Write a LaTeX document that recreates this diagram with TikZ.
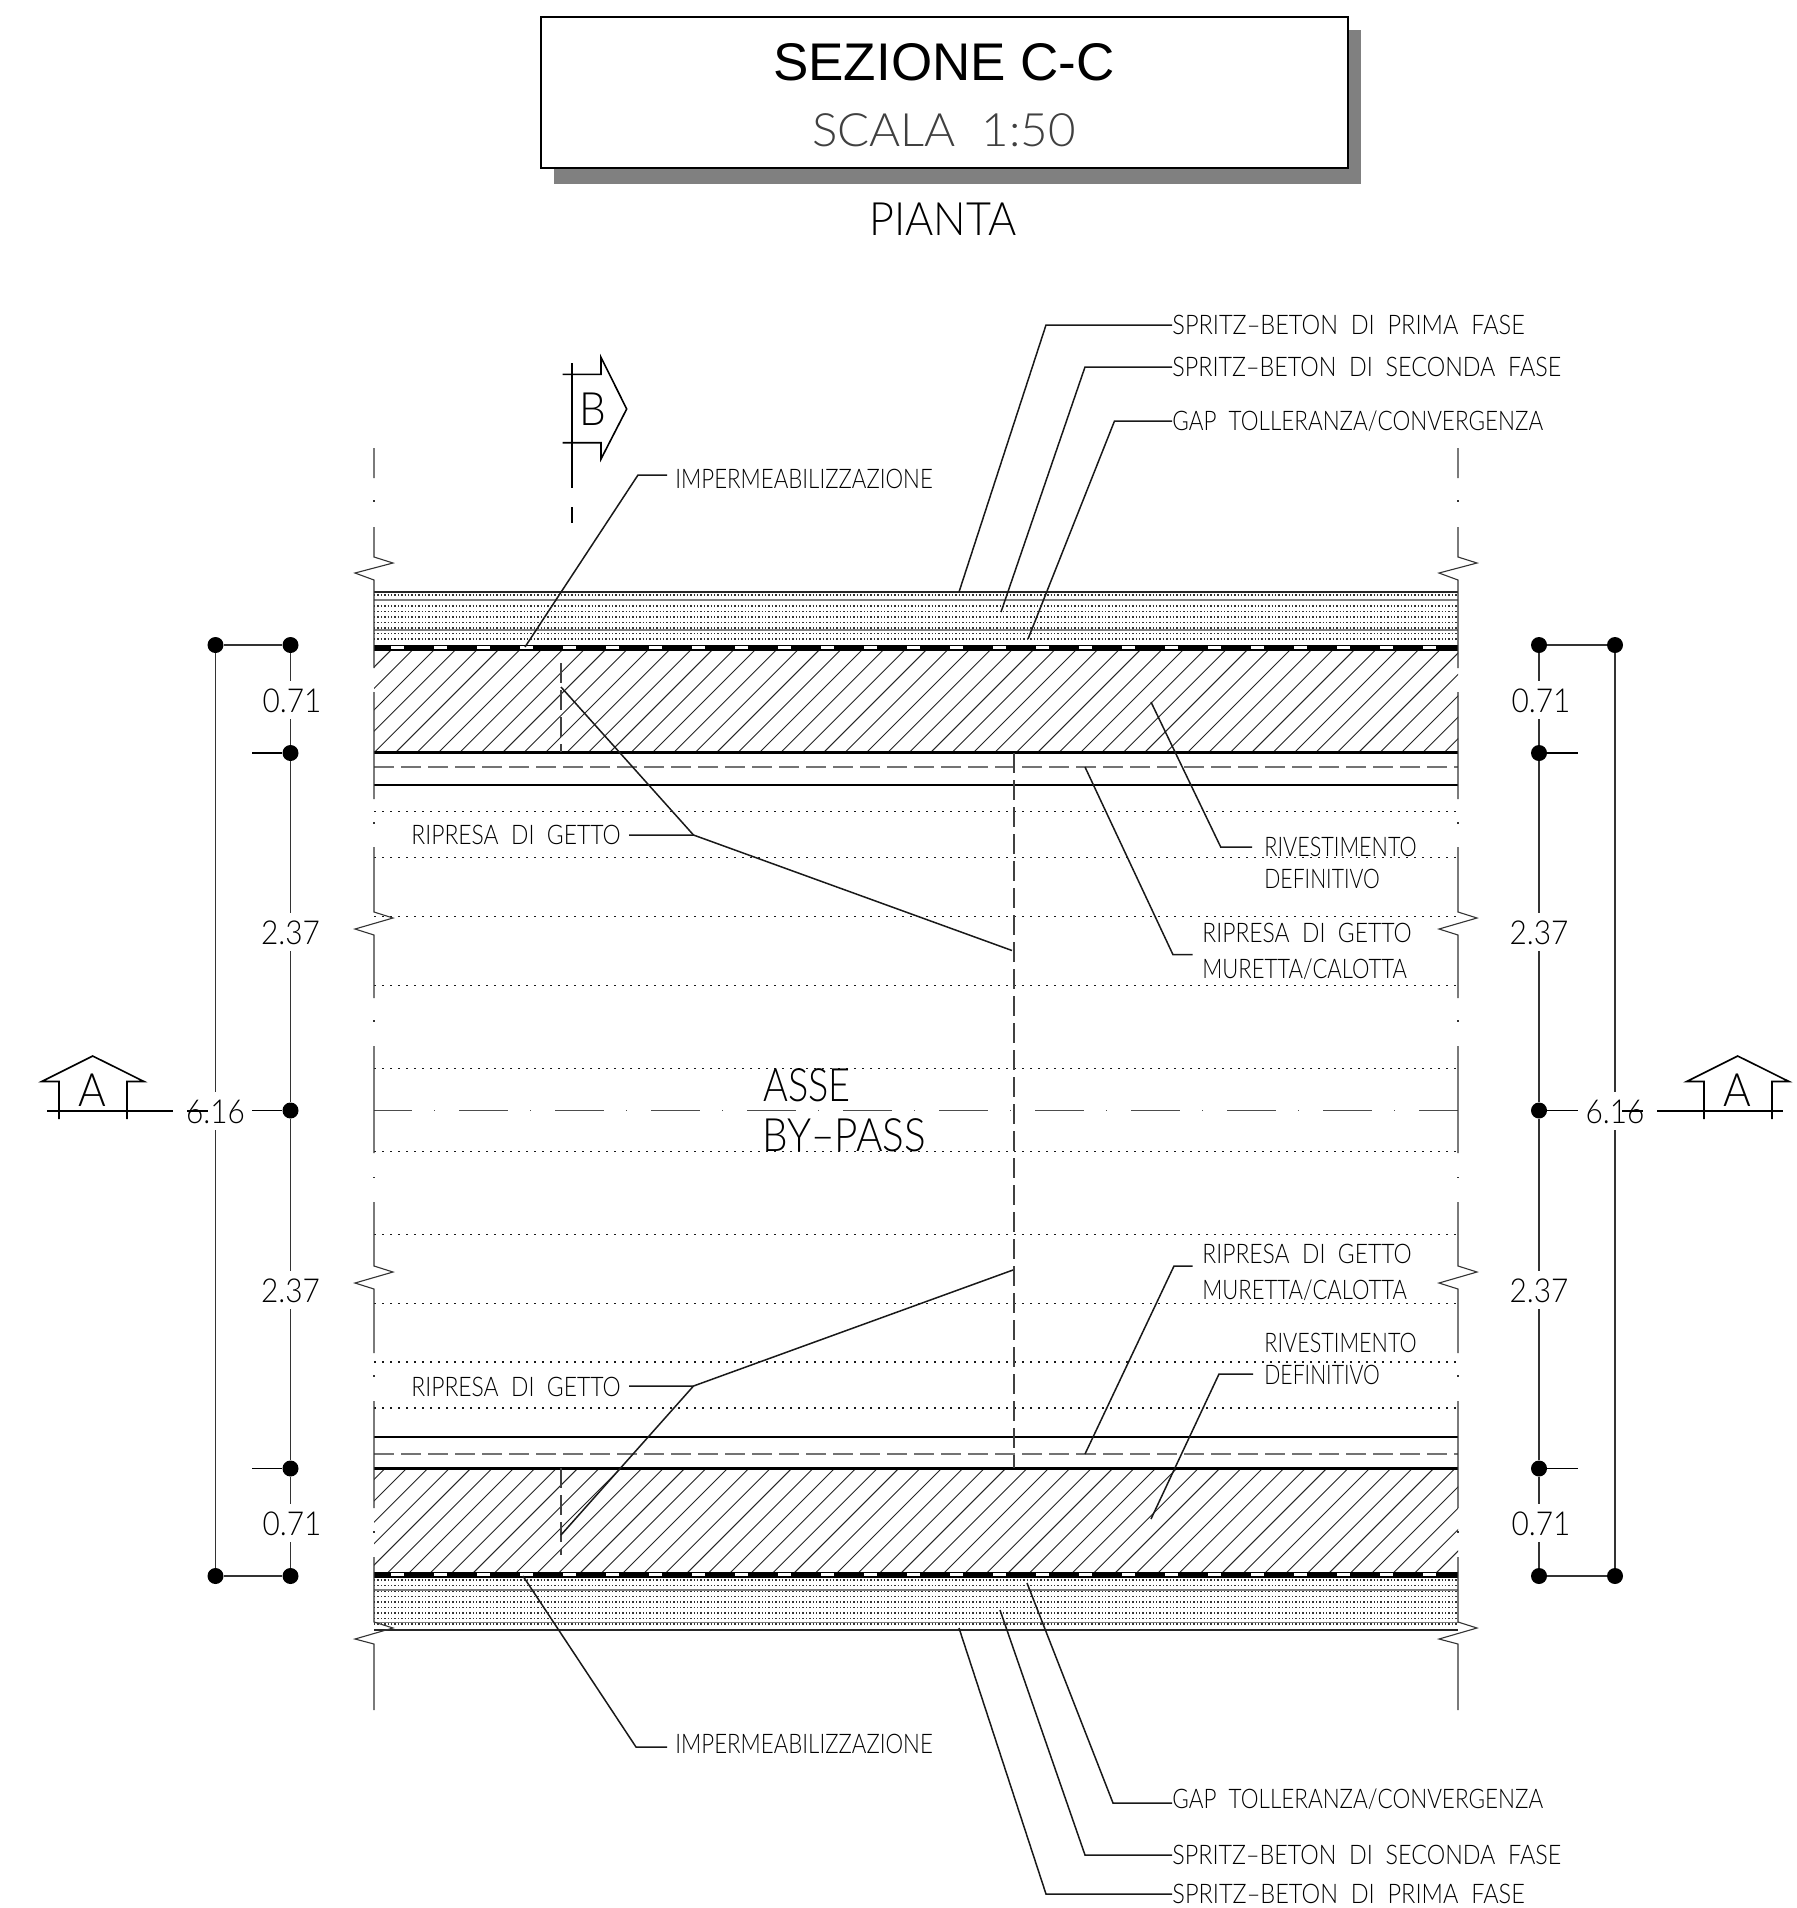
\documentclass[tikz,border=0pt]{standalone}
\usepackage{fontspec}
\setmainfont{Lato Light}[FakeStretch=0.8]
\newfontfamily\arialf{Liberation Sans}
\newcommand{\sx}[2]{\scalebox{#1}[1]{#2}}
\begin{document}
\begin{tikzpicture}[x=.5pt,y=-.5pt,
  cad/.style={line width=.55pt,black!80},
  heavy/.style={line width=1.3pt,black},
  med/.style={line width=.8pt,black},
  fine/.style={line width=.6pt,black},
  leader/.style={line width=.75pt,black!90},
  dotrow/.style={line width=.7pt,black!90,dash pattern=on .8pt off 3.2pt},
  stip/.style={line width=.55pt,black!80,dash pattern=on .7pt off 1pt},
  dashrow/.style={line width=.55pt,black!55,dash pattern=on 10pt off 3.5pt},
  vdash/.style={line width=.55pt,black!75,dash pattern=on 10pt off 3.5pt},
  axisline/.style={line width=.6pt,black!70,dash pattern=on 24.5pt off 11pt on .6pt off 11.9pt,dash phase=5.5pt},
  secline/.style={line width=1.2pt,black},
  dimdot/.style={circle,fill=black,inner sep=0pt,minimum size=8pt},
  lbl/.style={font=\fontsize{13.5}{14}\selectfont,inner sep=0pt,anchor=west,text height=9.7pt,text depth=0pt},
  dimlbl/.style={font=\fontsize{16.5}{17}\selectfont,inner sep=0pt,text height=12pt,text depth=0pt,minimum height=19pt,minimum width=10pt},
  biglbl/.style={font=\fontsize{23}{24}\selectfont,inner sep=0pt,text height=16pt,text depth=0pt},
]
\path[use as bounding box,fill=white] (0,0) rectangle (1797,1908);

% title
\fill[black!50] (554,30) rectangle (1361,184);
\node[draw=black,line width=.9pt,fill=white,minimum width=403.5pt,minimum height=75.5pt,inner sep=0pt] (titlebox) at (944.5,92.5) {};
\node[inner sep=0pt,font=\arialf\fontsize{26.5}{28}\selectfont] (t1) at (944,62) {SEZIONE C-C};
\node[biglbl,text=black!75] (t2) at (944,130) {\sx{1.29}{SCALA\ \ 1:50}};
\node[biglbl] (t3) at (943,219) {\sx{1.17}{PIANTA}};

% spritz layers
\foreach \y in {595,600.5,...,644}{\draw[stip] (374,\y) -- (1458,\y);}
\foreach \y in {1580,1585.5,...,1629}{\draw[stip] (374,\y) -- (1458,\y);}
\draw[line width=.8pt,black!50] (374,600) -- (1458,600) (374,630) -- (1458,630)
  (374,1590) -- (1458,1590) (374,1622.5) -- (1458,1622.5);
\draw[line width=.8pt,black!85] (374,592) -- (1458,592);
\draw[line width=.8pt,black!85] (374,1630) -- (1458,1630);

% hatching
\begin{scope}
\clip (374,650) rectangle (1458,752.7);
\foreach \n in {-5,...,52}{
  \pgfmathsetmacro\c{1126.7+21.4*\n}
  \draw[line width=.45pt,black!85] (\c-650,650) -- (\c-753,753);}
\end{scope}
\begin{scope}
\clip (374,1468.5) rectangle (1458,1572);
\foreach \n in {-1,...,57}{
  \pgfmathsetmacro\c{1853.5+21.4*\n}
  \draw[line width=.45pt,black!85] (\c-1468,1468) -- (\c-1573,1573);}
\end{scope}

% waterproofing bands
\draw[fine] (374,645.3) -- (1458,645.3) (374,650) -- (1458,650);
\draw[line width=1.5pt,black,dash pattern=on 15pt off 6.5pt,dash phase=6.5pt] (374,647.5) -- (1458,647.5);
\draw[fine] (374,1572.3) -- (1458,1572.3) (374,1577) -- (1458,1577);
\draw[line width=1.5pt,black,dash pattern=on 15pt off 6.5pt,dash phase=6.5pt] (374,1574.5) -- (1458,1574.5);

% horizontal lines
\draw[heavy] (374,752.7) -- (1458,752.7);
\draw[heavy] (374,1468.5) -- (1458,1468.5);
\draw[dashrow] (374,767) -- (1458,767);
\draw[dashrow] (374,1454) -- (1458,1454);
\draw[fine] (374,785) -- (1458,785);
\draw[fine] (374,1437) -- (1458,1437);
\foreach \y in {811.7,857.7,916.7,985.7,1068.3,1151.7,1234.5,1303.5,1362,1408}{
  \draw[dotrow] (374,\y) -- (1458,\y);}
\draw[axisline] (374,1110.5) -- (1458,1110.5);

% vertical breaks
\foreach \x/\s in {374/1,1458/1}{
 \draw[cad,line join=miter]
  (\x,448) -- (\x,478) (\x,527) -- (\x,557) -- (\x+19,563) -- (\x-19,573) -- (\x,580) -- (\x,668)
  (\x,692) -- (\x,799) (\x,847) -- (\x,912) -- (\x+19,918) -- (\x-19,929) -- (\x,935) -- (\x,998)
  (\x,1046) -- (\x,1153) (\x,1202) -- (\x,1266) -- (\x+19,1272) -- (\x-19,1283) -- (\x,1289) -- (\x,1353)
  (\x,1401) -- (\x,1508) (\x,1557) -- (\x,1622) -- (\x+19,1628) -- (\x-19,1639) -- (\x,1644) -- (\x,1710);
 \foreach \y in {501,823,1021,1177.5,1376,1532}{\fill[black!80] (\x-.7,\y-.7) rectangle (\x+.7,\y+.7);}
}
\draw[vdash] (1014,753) -- (1014,1468);
\draw[vdash] (561,663) -- (561,752);
\draw[vdash] (561,1468) -- (561,1555);

% section B
\draw[secline] (572,363) -- (572,488) (572,507) -- (572,523);
\draw[med] (562.7,374.3) -- (601,374.3) -- (601,357.3) -- (626.7,409) -- (601,459) -- (601,442.7) -- (562.7,442.7);
\node[biglbl] (secB) at (592.7,409) {\sx{1.15}{B}};

% section A left and right
\draw[secline] (47,1110.7) -- (173,1110.7) (187,1110.7) -- (208,1110.7);
\draw[med] (59,1119) -- (59,1081.5) -- (41.7,1081.5) -- (92.7,1056) -- (144,1081.5) -- (127,1081.5) -- (127,1119);
\node[biglbl] (secAl) at (92.7,1090) {\sx{1.15}{A}};
\draw[secline] (1657,1110.7) -- (1783,1110.7) (1622,1110.7) -- (1643,1110.7);
\draw[med] (1704,1119) -- (1704,1081.5) -- (1686.7,1081.5) -- (1737.7,1056) -- (1789,1081.5) -- (1772,1081.5) -- (1772,1119);
\node[biglbl] (secAr) at (1737.7,1090) {\sx{1.15}{A}};

% dimensions left
\node[dimdot] (la) at (215.5,645) {};
\node[dimdot] (lb) at (290.5,645) {};
\node[dimdot] (lc) at (290.5,753) {};
\node[dimdot] (ld) at (290.5,1110.5) {};
\node[dimdot] (le) at (290.5,1468.5) {};
\node[dimdot] (lf) at (290.5,1576) {};
\node[dimdot] (lg) at (215.5,1576) {};
\coordinate (ltc) at (252,753);
\coordinate (lte) at (252,1468.5);
\coordinate (ltd) at (252,1110.5);
\node[dimlbl] (l071a) at (292,700) {\sx{1.13}{0.71}};
\node[dimlbl] (l237a) at (290.5,932) {\sx{1.13}{2.37}};
\node[dimlbl] (l237b) at (290.5,1290) {\sx{1.13}{2.37}};
\node[dimlbl] (l071b) at (292,1523) {\sx{1.13}{0.71}};
\node[dimlbl] (l616) at (215.5,1111) {\sx{1.13}{6.16}};
\draw[cad] (la) -- (lb) (lf) -- (lg);
\draw[cad] (lb) -- (lb |- l071a.north) (lc |- l071a.south) -- (lc) -- (lc |- l237a.north)
  (ld |- l237a.south) -- (ld) -- (ld |- l237b.north) (le |- l237b.south) -- (le) -- (le |- l071b.north)
  (lf |- l071b.south) -- (lf);
\draw[cad] (la) -- (la |- l616.north) (lg |- l616.south) -- (lg);
\draw[med] (lc) -- (ltc) (le) -- (lte) (ld) -- (ltd);

% dimensions right
\node[dimdot] (ra) at (1615,645) {};
\node[dimdot] (rb) at (1539,645) {};
\node[dimdot] (rc) at (1539,753) {};
\node[dimdot] (rd) at (1539,1110.5) {};
\node[dimdot] (re) at (1539,1468.5) {};
\node[dimdot] (rf) at (1539,1576) {};
\node[dimdot] (rg) at (1615,1576) {};
\coordinate (rtc) at (1578,753);
\coordinate (rte) at (1578,1468.5);
\coordinate (rtd) at (1578,1110.5);
\node[dimlbl] (r071a) at (1541,700) {\sx{1.13}{0.71}};
\node[dimlbl] (r237a) at (1539,932) {\sx{1.13}{2.37}};
\node[dimlbl] (r237b) at (1539,1290) {\sx{1.13}{2.37}};
\node[dimlbl] (r071b) at (1541,1523) {\sx{1.13}{0.71}};
\node[dimlbl] (r616) at (1615,1111) {\sx{1.13}{6.16}};
\draw[cad] (ra) -- (rb) (rf) -- (rg);
\draw[cad] (rb) -- (rb |- r071a.north) (rc |- r071a.south) -- (rc) -- (rc |- r237a.north)
  (rd |- r237a.south) -- (rd) -- (rd |- r237b.north) (re |- r237b.south) -- (re) -- (re |- r071b.north)
  (rf |- r071b.south) -- (rf);
\draw[cad] (ra) -- (ra |- r616.north) (rg |- r616.south) -- (rg);
\draw[med] (rc) -- (rtc) (re) -- (rte) (rd) -- (rtd);

% axis label
\node[biglbl,anchor=west] (asse) at (763,1085) {\sx{1.03}{ASSE}};
\node[biglbl,anchor=west] (bypass) at (762,1135) {\sx{1.1}{BY–PASS}};

% labels
\node[lbl] (s1) at (1172,325) {\sx{1.09}{SPRITZ–BETON\ \ DI\ \ PRIMA\ \ FASE}};
\node[lbl] (s2) at (1172,367) {\sx{1.08}{SPRITZ–BETON\ \ DI\ \ SECONDA\ \ FASE}};
\node[lbl] (s3) at (1172,421) {\sx{1.04}{GAP\ \ TOLLERANZA/CONVERGENZA}};
\node[lbl] (i1) at (675,479) {\sx{1.03}{IMPERMEABILIZZAZIONE}};
\node[lbl] (g1) at (411,835) {\sx{1.06}{RIPRESA\ \ DI\ \ GETTO}};
\node[lbl] (r1) at (1264,847) {RIVESTIMENTO};
\node[lbl] (r1b) at (1264,879) {\sx{.98}{DEFINITIVO}};
\node[lbl] (m1) at (1202,933) {\sx{1.06}{RIPRESA\ \ DI\ \ GETTO}};
\node[lbl] (m1b) at (1202,969) {\sx{1.02}{MURETTA/CALOTTA}};
\node[lbl] (m2) at (1202,1254) {\sx{1.06}{RIPRESA\ \ DI\ \ GETTO}};
\node[lbl] (m2b) at (1202,1290) {\sx{1.02}{MURETTA/CALOTTA}};
\node[lbl] (r2) at (1264,1343) {RIVESTIMENTO};
\node[lbl] (r2b) at (1264,1375) {\sx{.98}{DEFINITIVO}};
\node[lbl] (g2) at (411,1387) {\sx{1.06}{RIPRESA\ \ DI\ \ GETTO}};
\node[lbl] (i2) at (675,1744) {\sx{1.03}{IMPERMEABILIZZAZIONE}};
\node[lbl] (s6) at (1172,1799) {\sx{1.04}{GAP\ \ TOLLERANZA/CONVERGENZA}};
\node[lbl] (s5) at (1172,1855) {\sx{1.08}{SPRITZ–BETON\ \ DI\ \ SECONDA\ \ FASE}};
\node[lbl] (s4) at (1172,1894) {\sx{1.09}{SPRITZ–BETON\ \ DI\ \ PRIMA\ \ FASE}};

% leaders
\coordinate (e1) at (959,592);
\coordinate (e2) at (1001,612);
\coordinate (e3) at (1028,639);
\coordinate (e4) at (525,647);
\coordinate (j1) at (693.5,835);
\coordinate (e5a) at (1012,950.5);
\coordinate (e5b) at (561,687);
\coordinate (j2) at (693.5,1386);
\coordinate (e6a) at (1013,1270);
\coordinate (e6b) at (561,1535);
\coordinate (e7) at (1151,702);
\coordinate (e8) at (1085,767);
\coordinate (e9) at (1085,1454);
\coordinate (e10) at (1151,1519);
\coordinate (e11) at (523,1576);
\coordinate (e12) at (1027,1583);
\coordinate (e13) at (1000,1610);
\coordinate (e14) at (959,1628);
\coordinate (b6) at (1172,1803);
\begin{scope}[leader]
\draw (s1.west) -- (1046,325) -- (e1);
\draw (s2.west) -- (1085,367) -- (e2);
\draw (s3.west) -- (1114.5,421) -- (e3);
\draw (667,475) -- (638,475) -- (e4);
\draw (629,835) -- (j1) -- (e5a);
\draw (j1) -- (e5b);
\draw (629,1386) -- (j2) -- (e6a);
\draw (j2) -- (e6b);
\draw (1252,847) -- (1220.7,847) -- (e7);
\draw (1192.7,954.7) -- (1173,954.7) -- (e8);
\draw (1192.7,1266) -- (1174,1266) -- (e9);
\draw (1253,1374) -- (1219,1374) -- (e10);
\draw (667,1747) -- (636,1747) -- (e11);
\draw (b6) -- (1113,1803) -- (e12);
\draw (s5.west) -- (1085,1855) -- (e13);
\draw (s4.west) -- (1046,1894) -- (e14);
\end{scope}
\end{tikzpicture}
\end{document}
